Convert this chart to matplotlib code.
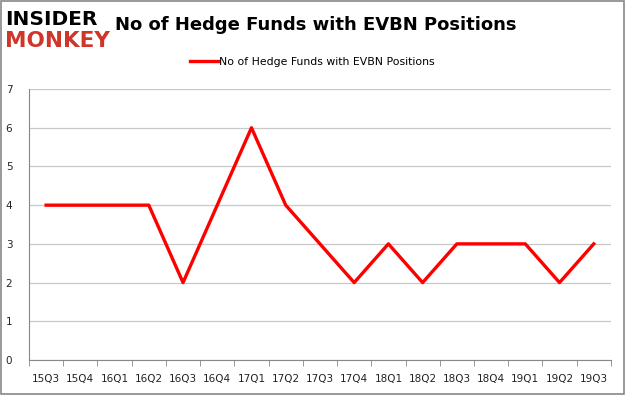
import matplotlib
matplotlib.use('Agg')
import matplotlib.pyplot as plt
from matplotlib.patches import Rectangle

# data
quarters = ['15Q3', '15Q4', '16Q1', '16Q2', '16Q3', '16Q4', '17Q1', '17Q2', '17Q3',
            '17Q4', '18Q1', '18Q2', '18Q3', '18Q4', '19Q1', '19Q2', '19Q3']
num_funds = [4, 4, 4, 4, 2, 4, 6, 4, 3, 2, 3, 2, 3, 3, 3, 2, 3]
y_ticks = [0, 1, 2, 3, 4, 5, 6, 7]
series_name = 'No of Hedge Funds with EVBN Positions'

fig = plt.figure(figsize=(6.25, 3.95), dpi=100)
fig.patches.append(Rectangle((0.0016, 0.0025), 0.9968, 0.995, transform=fig.transFigure,
                             fill=False, edgecolor='#888888', linewidth=1.2))

ax = fig.add_axes([0.0464, 0.0886, 0.931, 0.686])
x = list(range(len(quarters)))
ax.plot(x, num_funds, color='#ff0000', linewidth=2.4, label=series_name)

ax.set_xlim(-0.5, len(quarters) - 0.5)
ax.set_ylim(0, 7)
ax.set_yticks(y_ticks)
ax.set_xticks(x)
ax.set_xticklabels(quarters)
ax.set_xticks([i - 0.5 for i in range(len(quarters) + 1)], minor=True)
ax.tick_params(axis='x', which='major', length=0, pad=10, labelsize=7.5, colors='#222222')
ax.tick_params(axis='x', which='minor', length=4, color='#888888')
ax.tick_params(axis='y', length=0, pad=12, labelsize=7.5, colors='#222222')
ax.grid(axis='y', color='#c8c8c8', linewidth=0.9)
ax.set_axisbelow(True)
for s in ['top', 'right']:
    ax.spines[s].set_visible(False)
ax.spines['left'].set_color('#888888')
ax.spines['bottom'].set_color('#888888')

fig.text(0.184, 0.937, 'No of Hedge Funds with EVBN Positions', fontsize=13, fontweight='bold',
         va='center', ha='left', color='black')
fig.text(0.008, 0.95, 'INSIDER', fontsize=14.5, fontweight='bold', color='black',
         va='center', ha='left')
fig.text(0.008, 0.895, 'MONKEY', fontsize=15.5, fontweight='bold', color='#d0352a',
         va='center', ha='left')

leg = fig.legend(loc='center', bbox_to_anchor=(0.5, 0.843), frameon=False, fontsize=7.8,
                 handlelength=2.6, handletextpad=0.1)

fig.savefig('out.png', dpi=100)
